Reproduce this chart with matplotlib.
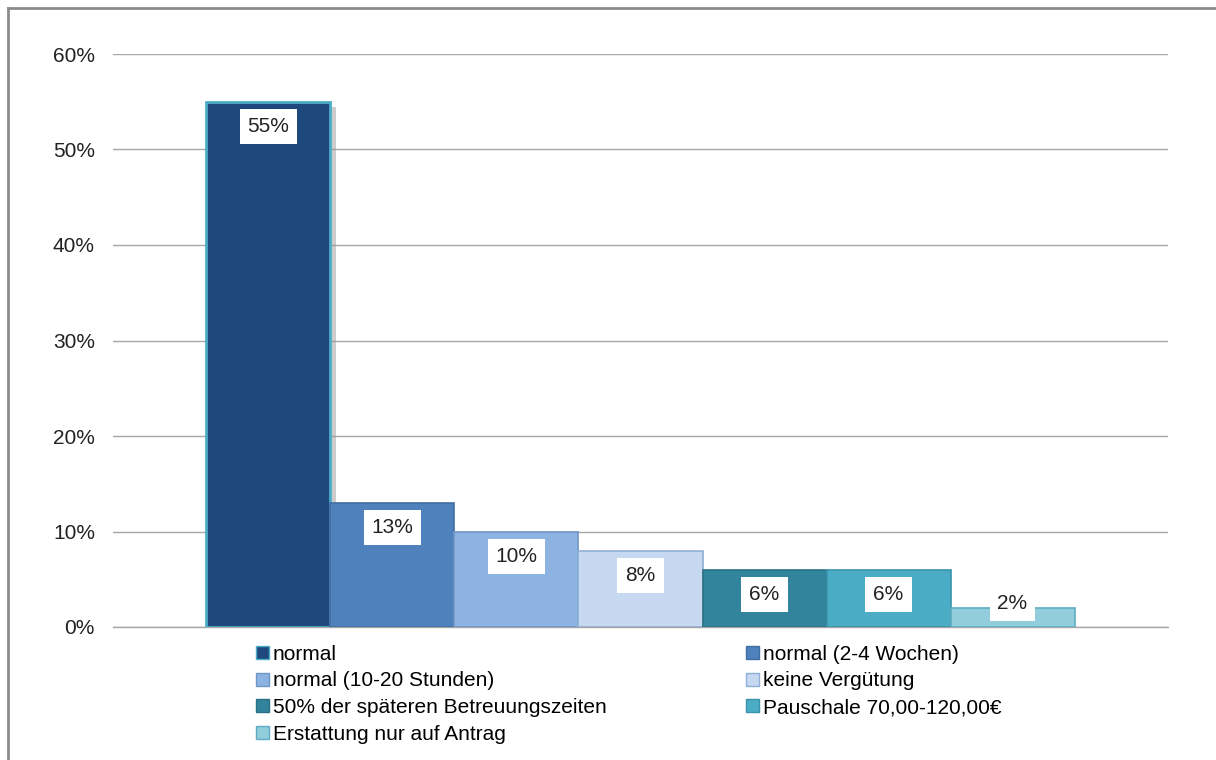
import matplotlib
matplotlib.use('Agg')
import matplotlib.pyplot as plt
import matplotlib.patheffects as pe
from matplotlib.lines import Line2D
from matplotlib.patches import Patch

categories = ['normal', 'normal (2-4 Wochen)', 'normal (10-20 Stunden)', 'keine Vergütung',
              '50% der späteren Betreuungszeiten', 'Pauschale 70,00-120,00€', 'Erstattung nur auf Antrag']
values = [55, 13, 10, 8, 6, 6, 2]
yticks = [0, 10, 20, 30, 40, 50, 60]

colors = ['#1f497d', '#4f81bd', '#8db3e2', '#c6d9f1', '#31849b', '#4bacc6', '#92cddc']
edges = ['#4bacc6', '#3f6ea3', '#6f96c6', '#8eaed4', '#2a7186', '#3a93ab', '#5eadc2']

plt.rcParams['font.family'] = ['Liberation Sans', 'DejaVu Sans']
plt.rcParams['font.size'] = 15

fig = plt.figure(figsize=(12.16, 7.6), dpi=100)
ax = fig.add_axes([113 / 1216, 1 - 627 / 760, 1055 / 1216, 573 / 760])

x = list(range(len(values)))
bars = ax.bar(x, values, width=1.0, color=colors, edgecolor=edges, linewidth=1.2, zorder=3)
bars[0].set_linewidth(2)
bars[0].set_path_effects([pe.SimplePatchShadow(offset=(4, -4), shadow_rgbFace='#9a9a9a', alpha=0.5), pe.Normal()])

for xi, v in zip(x, values):
    ax.text(xi, max(v - 2.6, 2.5), f'{v}%', ha='center', va='center', color='#222222', zorder=5,
            bbox=dict(boxstyle='square,pad=0.38', facecolor='white', edgecolor='none'))

ax.set_xlim(-0.5 - 0.754, len(values) - 0.5 + 0.754)
ax.set_ylim(0, 60)
ax.set_yticks(yticks)
ax.set_yticklabels([f'{t}%' for t in yticks], color='#222222')
ax.set_xticks([])
ax.tick_params(axis='y', length=0, pad=13)
ax.grid(axis='y', color='#a6a6a6', linewidth=1.0, zorder=0)
for s in ['top', 'right', 'left']:
    ax.spines[s].set_visible(False)
ax.spines['bottom'].set_color('#a6a6a6')
ax.spines['bottom'].set_linewidth(1.0)

# legend, filled column by column -> reorder so rows read left to right
order = [0, 2, 4, 6, 1, 3, 5]
handles = [Patch(facecolor=colors[i], edgecolor=edges[i], linewidth=1.0) for i in order]
labels = [categories[i] for i in order]
fig.legend(handles, labels, loc='upper left', bbox_to_anchor=(256 / 1216, 1 - 645 / 760), ncol=2,
           frameon=False, borderpad=0, borderaxespad=0, handlelength=0.6, handleheight=0.6,
           handletextpad=0.2, labelspacing=0.36, columnspacing=6.7, fontsize=15)

# outer chart frame
fig.add_artist(Line2D([8 / 1216, 8 / 1216], [0, 1 - 8 / 760], color='#8c8c8c', linewidth=2, transform=fig.transFigure))
fig.add_artist(Line2D([8 / 1216, 1], [1 - 8 / 760, 1 - 8 / 760], color='#8c8c8c', linewidth=2, transform=fig.transFigure))

fig.savefig('out.png', dpi=100)
